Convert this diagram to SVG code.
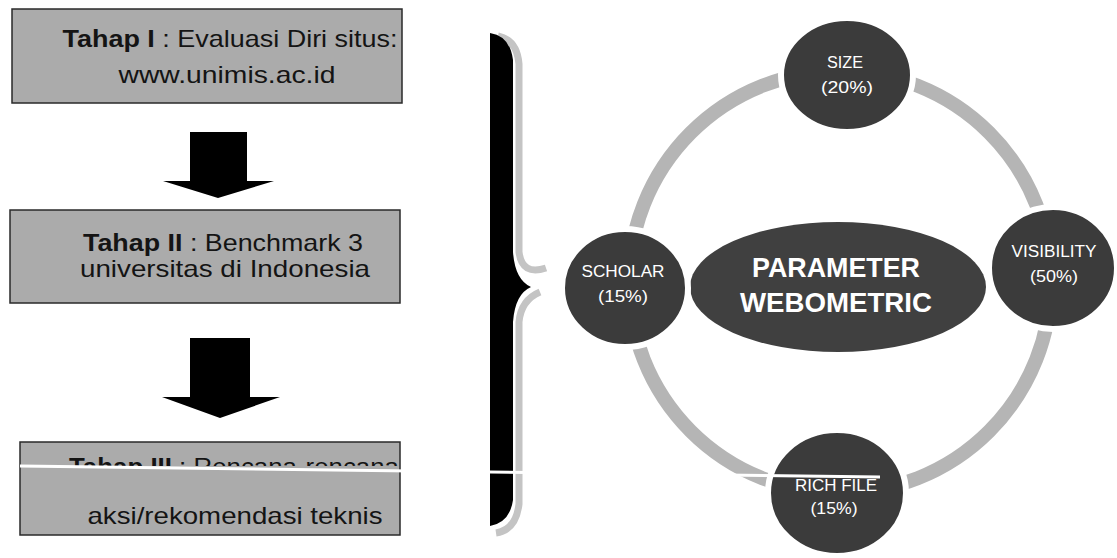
<svg xmlns="http://www.w3.org/2000/svg" width="1117" height="558" viewBox="0 0 1117 558">
<style>
.box{fill:#ababab;stroke:#2a2a2a;stroke-width:1.5}
.bt{font-family:"Liberation Sans",Arial,sans-serif;font-size:24px;fill:#141414;text-anchor:middle}
.b{font-weight:bold}
.node{fill:#3b3b3b;stroke:#ffffff;stroke-width:6}
.nt{font-family:"Liberation Sans",Arial,sans-serif;font-size:16px;fill:#ffffff;text-anchor:middle}
.ct{font-family:"Liberation Sans",Arial,sans-serif;font-size:28px;font-weight:bold;fill:#ffffff;text-anchor:middle}
.arrow{fill:#000000}
.shadow{fill:none;stroke:#c4c4c4;stroke-width:7}
</style>
<defs>
<clipPath id="cut3"><rect x="0" y="440" width="420" height="26"/></clipPath>
</defs>
<rect width="1117" height="558" fill="#ffffff"/>

<g id="connectors">
<path class="arrow" d="M190,132 L247,132 L247,181 L274,181 L218,198 L163,181 L190,181 Z"/>
<path class="arrow" d="M190,338 L250,338 L250,397 L280,397 L220,418 L162,397 L190,397 Z"/>
<circle cx="840" cy="282" r="211" fill="none" stroke="#b5b5b5" stroke-width="14"/>
</g>

<g id="tahap1">
<rect class="box" x="12" y="9" width="390" height="94"/>
<text class="bt" x="230" y="47" textLength="335" lengthAdjust="spacingAndGlyphs"><tspan class="b">Tahap I</tspan> : Evaluasi Diri situs:</text>
<text class="bt" x="227" y="83" textLength="217" lengthAdjust="spacingAndGlyphs">www.unimis.ac.id</text>
</g>

<g id="tahap2">
<rect class="box" x="10" y="210" width="390" height="93"/>
<text class="bt" x="223" y="251" textLength="280" lengthAdjust="spacingAndGlyphs"><tspan class="b">Tahap II</tspan> : Benchmark 3</text>
<text class="bt" x="225" y="277" textLength="290" lengthAdjust="spacingAndGlyphs">universitas  di Indonesia</text>
</g>

<g id="tahap3">
<rect class="box" x="20" y="442" width="380" height="93"/>
<text class="bt" x="234" y="475" textLength="330" lengthAdjust="spacingAndGlyphs" clip-path="url(#cut3)"><tspan class="b">Tahap III</tspan> : Rencana-rencana</text>
<text class="bt" x="235" y="524" textLength="295" lengthAdjust="spacingAndGlyphs">aksi/rekomendasi teknis</text>
</g>

<g id="brace">
<path class="shadow" d="M498,36 Q517,40 519,64 L519,252 Q522,276 546,268"/>
<path class="shadow" d="M540,292 Q521,300 519,322 L519,504 Q516,530 496,533"/>
<path d="M490,33 Q510,36 513,60 L513,252 Q515,280 531,287 Q515,294 513,322 L513,500 Q510,522 490,526 Z" fill="#000000"/>
</g>

<g id="center">
<ellipse cx="838" cy="287" rx="148" ry="65" fill="#404040"/>
<text class="ct" x="836" y="277" textLength="168" lengthAdjust="spacingAndGlyphs">PARAMETER</text>
<text class="ct" x="836" y="312" textLength="192" lengthAdjust="spacingAndGlyphs">WEBOMETRIC</text>
</g>

<g id="size">
<ellipse class="node" cx="847" cy="75" rx="66" ry="57"/>
<text class="nt" x="845" y="68" textLength="36" lengthAdjust="spacingAndGlyphs">SIZE</text>
<text class="nt" x="847" y="93" textLength="52" lengthAdjust="spacingAndGlyphs">(20%)</text>
</g>

<g id="scholar">
<ellipse class="node" cx="625" cy="288" rx="63" ry="59"/>
<text class="nt" x="623" y="277" textLength="83" lengthAdjust="spacingAndGlyphs">SCHOLAR</text>
<text class="nt" x="623" y="302" textLength="50" lengthAdjust="spacingAndGlyphs">(15%)</text>
</g>

<g id="visibility">
<ellipse class="node" cx="1053" cy="268" rx="64" ry="61"/>
<text class="nt" x="1054" y="257" textLength="85" lengthAdjust="spacingAndGlyphs">VISIBILITY</text>
<text class="nt" x="1054" y="282" textLength="48" lengthAdjust="spacingAndGlyphs">(50%)</text>
</g>

<g id="richfile">
<ellipse class="node" cx="837" cy="493" rx="69" ry="63"/>
<text class="nt" x="836" y="491" textLength="82" lengthAdjust="spacingAndGlyphs">RICH FILE</text>
<text class="nt" x="834" y="514" textLength="47" lengthAdjust="spacingAndGlyphs">(15%)</text>
</g>

<line x1="20" y1="466" x2="880" y2="477" stroke="#ffffff" stroke-width="3"/>
</svg>
